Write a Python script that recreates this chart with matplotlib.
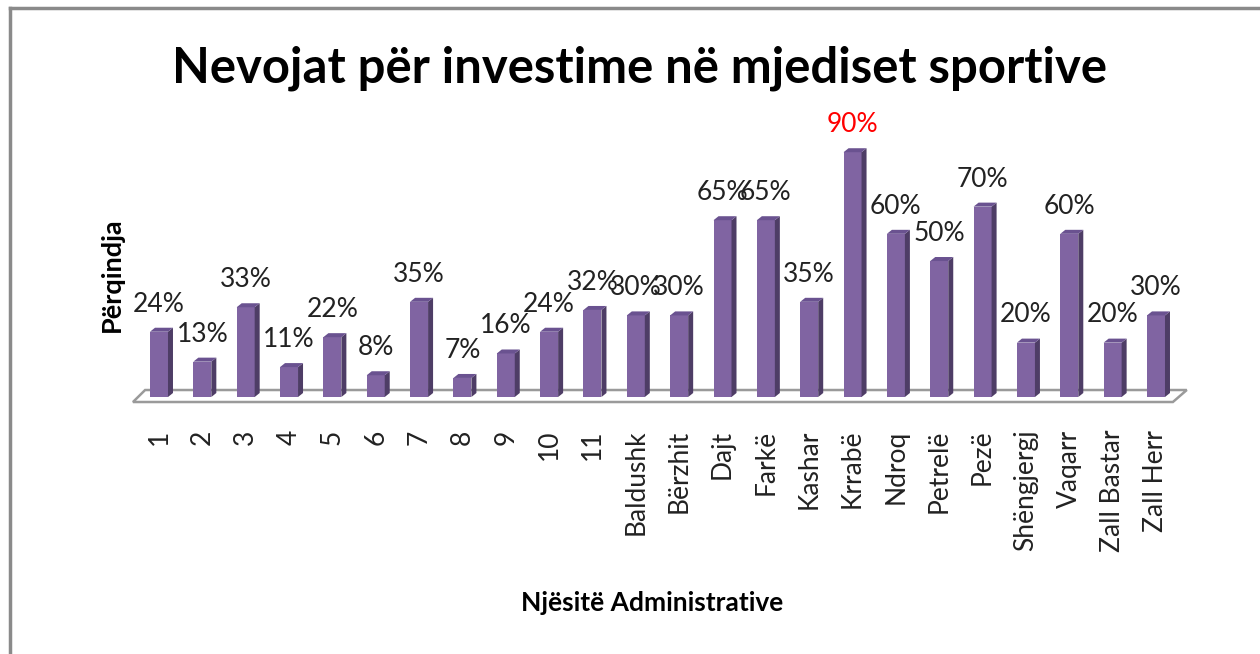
import matplotlib
matplotlib.use("Agg")
import matplotlib.pyplot as plt
from matplotlib.patches import Polygon
from matplotlib.lines import Line2D

categories = ["1", "2", "3", "4", "5", "6", "7", "8", "9", "10", "11",
              "Baldushk", "Bërzhit", "Dajt", "Farkë", "Kashar", "Krrabë",
              "Ndroq", "Petrelë", "Pezë", "Shëngjergj", "Vaqarr",
              "Zall Bastar", "Zall Herr"]
values = [24, 13, 33, 11, 22, 8, 35, 7, 16, 24, 32, 30, 30, 65, 65, 35, 90,
          60, 50, 70, 20, 60, 20, 30]
labels = [f"{v}%" for v in values]
highlight = "Krrabë"

title = "Nevojat për investime në mjediset sportive"
xlabel = "Njësitë Administrative"
ylabel = "Përqindja"

FRONT = "#8064A2"
SIDE = "#4E3D66"
TOP = "#6A5290"
FONT = "Lato"

fig = plt.figure(figsize=(12.6, 6.54), dpi=100)
# axes in pixel terms: left 125, right 1195, bottom y=405, top y=100
ax = fig.add_axes([125 / 1260, (654 - 405) / 654, (1195 - 125) / 1260, (405 - 100) / 654])
ax.set_xlim(-0.784, 23.9)
ax.set_ylim(-2.94, 109.2)
ax.axis("off")

# depth offsets in data units
dx = 5 / 43.35
dy = 4 / 2.72
w = 18 / 43.35

# floor
fl_front, fl_back = -1.84, 2.57
floor = Polygon([(-0.60, fl_front), (23.39, fl_front), (23.71, fl_back), (-0.32, fl_back)],
                closed=True, facecolor="white", edgecolor="#9a9a9a", lw=1.8, zorder=1)
ax.add_patch(floor)

xs = list(range(len(categories)))
ax.bar(xs, values, width=w, color=FRONT, edgecolor="none", zorder=3)
for x, v in zip(xs, values):
    x0, x1 = x - w / 2, x + w / 2
    side = Polygon([(x1, 0), (x1 + dx, dy), (x1 + dx, v + dy), (x1, v)],
                   closed=True, facecolor=SIDE, edgecolor="none", zorder=3)
    top = Polygon([(x0, v), (x1, v), (x1 + dx, v + dy), (x0 + dx, v + dy)],
                  closed=True, facecolor=TOP, edgecolor="none", zorder=3)
    ax.add_patch(side)
    ax.add_patch(top)

for x, v, lab, cat in zip(xs, values, labels, categories):
    ax.annotate(lab, (x, v + dy), xytext=(0, 8), textcoords="offset points",
                ha="center", va="bottom", fontsize=19, family=FONT,
                color="red" if cat == highlight else "#222222", zorder=5)

for x, cat in zip(xs, categories):
    ax.text(x, -12.0, cat, rotation=90, ha="center", va="top",
            fontsize=19, family=FONT, color="#222222")

fig.text(640 / 1260, 1 - 68 / 654, title, ha="center", va="center",
         fontsize=35.3, fontweight="bold", family=FONT)
fig.text(112 / 1260, 1 - 275 / 654, ylabel, rotation=90, ha="center", va="center",
         fontsize=19.5, fontweight="bold", family=FONT)
fig.text(652 / 1260, 1 - 603 / 654, xlabel, ha="center", va="center",
         fontsize=19, fontweight="bold", family=FONT)

# outer frame (left and top visible)
fig.add_artist(Line2D([10 / 1260, 10 / 1260], [0, 1 - 8 / 654], transform=fig.transFigure,
                      color="#8a8a8a", lw=2.5))
fig.add_artist(Line2D([10 / 1260, 1], [1 - 8 / 654, 1 - 8 / 654], transform=fig.transFigure,
                      color="#8a8a8a", lw=2.5))

fig.savefig("out.png", dpi=100)
